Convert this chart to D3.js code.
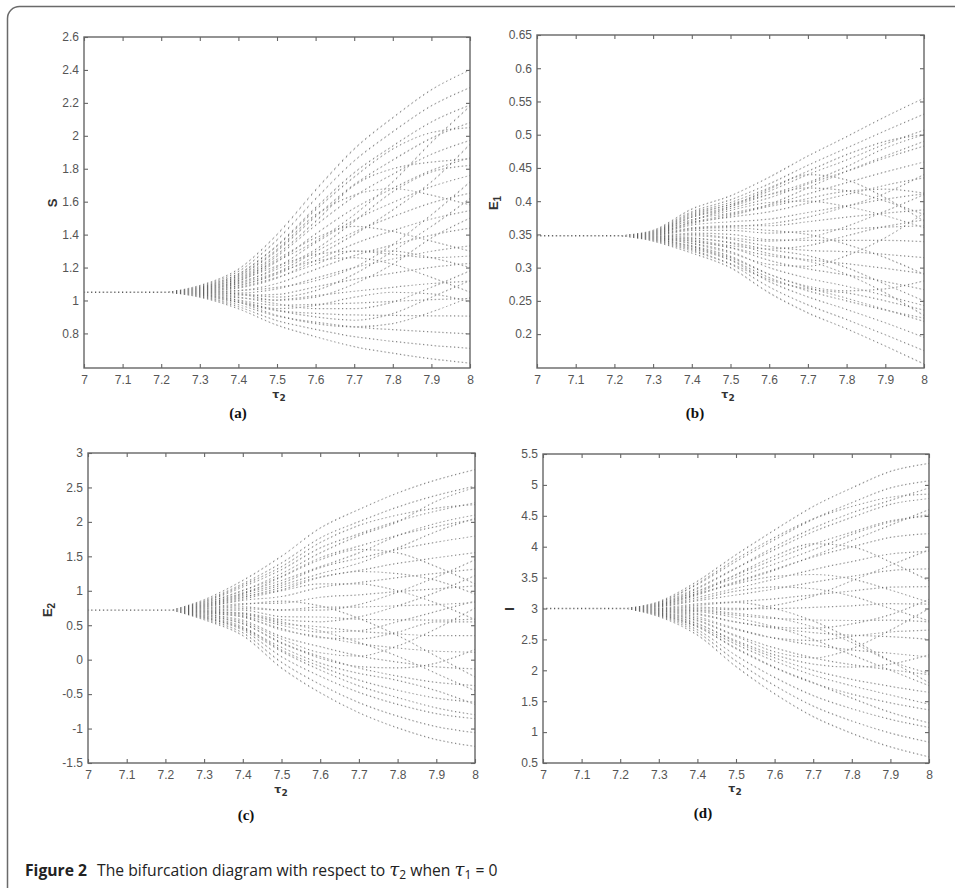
<!DOCTYPE html>
<html>
<head>
<meta charset="utf-8">
<script src="https://cdn.jsdelivr.net/npm/d3@7"></script>
<style>
  body { margin: 0; background: #fff; }
  svg { display: block; }
</style>
</head>
<body>
<svg id="fig" width="955" height="888"></svg>
<script>
// bifurcation diagrams, tau2 in [7, 8], tau1 = 0

var taus = [7.3, 7.4, 7.5, 7.6, 7.7, 7.8, 7.9, 8.0];
var splitTau = 7.22;   // branches leave the equilibrium about here
var tauStep = 0.01;    // parameter step of the sweep (dot columns)
var xTicks = [7, 7.1, 7.2, 7.3, 7.4, 7.5, 7.6, 7.7, 7.8, 7.9, 8];

// equilibrium value before the bifurcation
var fixedS = 1.05, fixedE1 = 0.348, fixedE2 = 0.72, fixedI = 3.0;

// branches, one row per branch, values at taus
var branchesS = [
  [1.09, 1.19, 1.40, 1.67, 1.92, 2.11, 2.28, 2.40],
  [1.086, 1.176, 1.367, 1.617, 1.848, 2.024, 2.182, 2.293],
  [1.082, 1.161, 1.334, 1.563, 1.776, 1.938, 2.084, 2.186],
  [1.077, 1.147, 1.301, 1.510, 1.704, 1.853, 1.986, 2.080],
  [1.073, 1.132, 1.268, 1.456, 1.632, 1.767, 1.888, 1.973],
  [1.069, 1.118, 1.235, 1.403, 1.560, 1.681, 1.790, 1.866],
  [1.065, 1.104, 1.202, 1.350, 1.488, 1.595, 1.691, 1.759],
  [1.061, 1.089, 1.169, 1.296, 1.416, 1.509, 1.593, 1.652],
  [1.056, 1.075, 1.136, 1.243, 1.344, 1.424, 1.495, 1.546],
  [1.052, 1.060, 1.103, 1.189, 1.272, 1.338, 1.397, 1.439],
  [1.048, 1.046, 1.070, 1.136, 1.200, 1.252, 1.299, 1.332],
  [1.044, 1.032, 1.037, 1.083, 1.128, 1.166, 1.201, 1.225],
  [1.040, 1.017, 1.004, 1.029, 1.056, 1.080, 1.103, 1.118],
  [1.035, 1.003, 0.971, 0.976, 0.984, 0.995, 1.005, 1.012],
  [1.031, 0.988, 0.938, 0.922, 0.912, 0.909, 0.907, 0.905],
  [1.027, 0.974, 0.905, 0.869, 0.840, 0.823, 0.809, 0.798],
  [1.024, 0.962, 0.878, 0.825, 0.780, 0.752, 0.727, 0.709],
  [1.02, 0.95, 0.85, 0.78, 0.72, 0.68, 0.645, 0.62],
  [1.06, 1.12, 1.25, 1.38, 1.45, 1.42, 1.36, 1.30],
  [1.05, 1.04, 1.00, 1.02, 1.10, 1.22, 1.38, 1.50],
  [1.07, 1.14, 1.28, 1.48, 1.70, 1.80, 1.84, 1.86],
  [1.065, 1.11, 1.19, 1.31, 1.48, 1.66, 1.78, 1.82],
  [1.045, 1.02, 0.98, 0.95, 0.95, 0.99, 1.08, 1.18],
  [1.075, 1.15, 1.31, 1.52, 1.64, 1.68, 1.64, 1.58],
  [1.04, 1.00, 0.94, 0.90, 0.88, 0.92, 1.02, 1.12],
  [1.055, 1.08, 1.14, 1.22, 1.30, 1.30, 1.26, 1.20],
  [1.08, 1.16, 1.33, 1.55, 1.75, 1.92, 2.02, 2.05],
  [1.058, 1.09, 1.16, 1.27, 1.40, 1.55, 1.72, 1.95],
  [1.052, 1.06, 1.08, 1.12, 1.20, 1.34, 1.52, 1.72],
  [1.062, 1.10, 1.17, 1.24, 1.26, 1.22, 1.14, 1.05],
  [1.038, 0.99, 0.91, 0.86, 0.84, 0.86, 0.93, 1.02],
  [1.072, 1.13, 1.24, 1.36, 1.52, 1.72, 1.96, 2.18],
  [1.046, 1.04, 1.02, 1.06, 1.16, 1.30, 1.45, 1.62],
  [1.034, 0.99, 0.95, 0.97, 1.02, 1.05, 1.04, 0.99],
  [1.068, 1.12, 1.21, 1.28, 1.30, 1.28, 1.26, 1.27]
];

var branchesE1 = [
  [0.356, 0.388, 0.408, 0.436, 0.468, 0.497, 0.527, 0.555],
  [0.355, 0.384, 0.402, 0.426, 0.454, 0.480, 0.506, 0.531],
  [0.354, 0.380, 0.395, 0.415, 0.440, 0.462, 0.486, 0.507],
  [0.353, 0.376, 0.389, 0.405, 0.426, 0.445, 0.465, 0.483],
  [0.352, 0.372, 0.382, 0.394, 0.411, 0.428, 0.444, 0.459],
  [0.351, 0.368, 0.376, 0.384, 0.397, 0.410, 0.424, 0.435],
  [0.350, 0.364, 0.369, 0.373, 0.383, 0.393, 0.403, 0.411],
  [0.349, 0.360, 0.363, 0.363, 0.369, 0.376, 0.382, 0.387],
  [0.348, 0.356, 0.356, 0.352, 0.355, 0.358, 0.361, 0.363],
  [0.347, 0.352, 0.350, 0.342, 0.341, 0.341, 0.341, 0.339],
  [0.346, 0.348, 0.343, 0.332, 0.326, 0.324, 0.320, 0.315],
  [0.345, 0.344, 0.337, 0.321, 0.312, 0.306, 0.299, 0.291],
  [0.344, 0.340, 0.330, 0.311, 0.298, 0.289, 0.279, 0.267],
  [0.344, 0.337, 0.324, 0.300, 0.284, 0.272, 0.258, 0.243],
  [0.343, 0.333, 0.317, 0.290, 0.270, 0.254, 0.237, 0.219],
  [0.342, 0.329, 0.311, 0.279, 0.256, 0.237, 0.217, 0.195],
  [0.341, 0.325, 0.305, 0.271, 0.244, 0.222, 0.199, 0.175],
  [0.340, 0.322, 0.300, 0.262, 0.232, 0.208, 0.182, 0.155],
  [0.350, 0.370, 0.392, 0.418, 0.440, 0.432, 0.405, 0.370],
  [0.346, 0.336, 0.322, 0.305, 0.302, 0.318, 0.345, 0.382],
  [0.352, 0.376, 0.392, 0.410, 0.428, 0.452, 0.480, 0.500],
  [0.351, 0.368, 0.380, 0.392, 0.404, 0.415, 0.418, 0.412],
  [0.347, 0.345, 0.338, 0.327, 0.318, 0.300, 0.275, 0.250],
  [0.353, 0.378, 0.395, 0.410, 0.420, 0.416, 0.400, 0.380],
  [0.343, 0.331, 0.315, 0.290, 0.272, 0.265, 0.268, 0.280],
  [0.349, 0.359, 0.362, 0.366, 0.376, 0.392, 0.412, 0.440],
  [0.345, 0.340, 0.330, 0.318, 0.310, 0.290, 0.262, 0.228],
  [0.350, 0.366, 0.378, 0.395, 0.420, 0.445, 0.468, 0.490],
  [0.347, 0.350, 0.345, 0.340, 0.345, 0.362, 0.385, 0.410],
  [0.352, 0.372, 0.386, 0.398, 0.400, 0.392, 0.378, 0.360],
  [0.344, 0.332, 0.312, 0.285, 0.265, 0.250, 0.236, 0.224],
  [0.349, 0.358, 0.360, 0.356, 0.350, 0.335, 0.315, 0.290],
  [0.346, 0.342, 0.333, 0.328, 0.333, 0.348, 0.362, 0.372],
  [0.354, 0.382, 0.398, 0.420, 0.445, 0.470, 0.490, 0.500],
  [0.342, 0.327, 0.306, 0.282, 0.268, 0.262, 0.250, 0.236]
];

var branchesE2 = [
  [0.87, 1.15, 1.50, 1.91, 2.18, 2.42, 2.61, 2.76],
  [0.853, 1.102, 1.403, 1.767, 2.003, 2.215, 2.384, 2.519],
  [0.835, 1.054, 1.306, 1.623, 1.826, 2.011, 2.158, 2.278],
  [0.818, 1.006, 1.208, 1.480, 1.649, 1.806, 1.931, 2.036],
  [0.800, 0.958, 1.111, 1.336, 1.472, 1.602, 1.705, 1.795],
  [0.783, 0.910, 1.014, 1.193, 1.295, 1.397, 1.479, 1.554],
  [0.766, 0.862, 0.917, 1.050, 1.118, 1.192, 1.253, 1.313],
  [0.748, 0.814, 0.820, 0.906, 0.941, 0.988, 1.027, 1.072],
  [0.731, 0.766, 0.722, 0.763, 0.764, 0.783, 0.800, 0.830],
  [0.713, 0.718, 0.625, 0.619, 0.587, 0.579, 0.574, 0.589],
  [0.696, 0.670, 0.528, 0.476, 0.410, 0.374, 0.348, 0.348],
  [0.679, 0.622, 0.431, 0.333, 0.233, 0.169, 0.122, 0.107],
  [0.661, 0.574, 0.334, 0.189, 0.056, -0.035, -0.104, -0.134],
  [0.644, 0.526, 0.236, 0.046, -0.121, -0.240, -0.331, -0.376],
  [0.626, 0.478, 0.139, -0.098, -0.298, -0.444, -0.557, -0.617],
  [0.609, 0.430, 0.042, -0.241, -0.475, -0.649, -0.783, -0.858],
  [0.595, 0.390, -0.039, -0.361, -0.623, -0.820, -0.972, -1.059],
  [0.58, 0.35, -0.12, -0.48, -0.77, -0.99, -1.16, -1.26],
  [0.79, 0.95, 1.20, 1.45, 1.60, 1.55, 1.35, 1.10],
  [0.66, 0.55, 0.30, 0.10, 0.05, 0.20, 0.45, 0.75],
  [0.74, 0.80, 0.85, 0.78, 0.60, 0.35, 0.05, -0.25],
  [0.80, 0.97, 1.15, 1.35, 1.55, 1.80, 1.98, 2.10],
  [0.70, 0.68, 0.58, 0.55, 0.62, 0.78, 0.98, 1.22],
  [0.62, 0.46, 0.18, -0.05, -0.20, -0.30, -0.45, -0.65],
  [0.76, 0.88, 1.00, 1.10, 1.10, 1.00, 0.82, 0.58],
  [0.68, 0.62, 0.45, 0.32, 0.30, 0.40, 0.55, 0.55],
  [0.84, 1.08, 1.35, 1.70, 1.95, 2.10, 2.20, 2.25],
  [0.78, 0.93, 1.08, 1.25, 1.40, 1.62, 1.86, 2.05],
  [0.72, 0.74, 0.72, 0.72, 0.80, 0.98, 1.20, 1.45],
  [0.77, 0.90, 1.05, 1.20, 1.28, 1.25, 1.15, 0.95],
  [0.64, 0.52, 0.25, 0.02, -0.10, -0.12, -0.05, 0.15],
  [0.70, 0.66, 0.55, 0.42, 0.25, 0.05, -0.20, -0.45],
  [0.82, 1.00, 1.25, 1.55, 1.80, 2.00, 2.30, 2.50],
  [0.69, 0.64, 0.50, 0.40, 0.42, 0.55, 0.70, 0.85],
  [0.61, 0.45, 0.12, -0.15, -0.38, -0.55, -0.70, -0.80]
];

var branchesI = [
  [3.11, 3.44, 3.87, 4.27, 4.65, 4.95, 5.22, 5.35],
  [3.096, 3.388, 3.761, 4.111, 4.446, 4.712, 4.952, 5.065],
  [3.081, 3.336, 3.653, 3.952, 4.242, 4.474, 4.685, 4.780],
  [3.067, 3.283, 3.544, 3.793, 4.038, 4.235, 4.417, 4.495],
  [3.052, 3.231, 3.436, 3.634, 3.834, 3.997, 4.150, 4.210],
  [3.038, 3.179, 3.327, 3.475, 3.630, 3.759, 3.882, 3.925],
  [3.024, 3.127, 3.218, 3.316, 3.426, 3.521, 3.614, 3.640],
  [3.009, 3.075, 3.110, 3.157, 3.222, 3.283, 3.347, 3.355],
  [2.995, 3.022, 3.001, 2.998, 3.018, 3.044, 3.079, 3.070],
  [2.980, 2.970, 2.893, 2.839, 2.814, 2.806, 2.812, 2.785],
  [2.966, 2.918, 2.784, 2.680, 2.610, 2.568, 2.544, 2.500],
  [2.952, 2.866, 2.675, 2.521, 2.406, 2.330, 2.276, 2.215],
  [2.937, 2.814, 2.567, 2.362, 2.202, 2.092, 2.009, 1.930],
  [2.923, 2.761, 2.458, 2.203, 1.998, 1.853, 1.741, 1.645],
  [2.908, 2.709, 2.350, 2.044, 1.794, 1.615, 1.474, 1.360],
  [2.894, 2.657, 2.241, 1.885, 1.590, 1.377, 1.206, 1.075],
  [2.882, 2.614, 2.151, 1.753, 1.420, 1.179, 0.983, 0.838],
  [2.87, 2.57, 2.06, 1.62, 1.25, 0.98, 0.76, 0.60],
  [3.05, 3.25, 3.55, 3.85, 4.05, 4.00, 3.75, 3.45],
  [2.93, 2.80, 2.55, 2.30, 2.20, 2.35, 2.65, 3.00],
  [3.00, 3.05, 3.10, 3.00, 2.80, 2.50, 2.15, 1.80],
  [3.06, 3.28, 3.50, 3.72, 3.95, 4.20, 4.40, 4.52],
  [2.96, 2.90, 2.78, 2.70, 2.68, 2.75, 2.90, 3.15],
  [2.91, 2.72, 2.42, 2.15, 1.92, 1.75, 1.60, 1.45],
  [3.03, 3.15, 3.28, 3.35, 3.32, 3.20, 3.00, 2.80],
  [2.98, 2.98, 2.92, 2.85, 2.70, 2.45, 2.15, 1.95],
  [3.09, 3.40, 3.80, 4.15, 4.45, 4.65, 4.80, 4.85],
  [3.04, 3.22, 3.42, 3.62, 3.85, 4.10, 4.35, 4.60],
  [2.99, 3.00, 2.98, 3.05, 3.20, 3.45, 3.70, 3.95],
  [3.05, 3.24, 3.40, 3.52, 3.55, 3.48, 3.30, 3.10],
  [2.92, 2.75, 2.48, 2.25, 2.10, 2.05, 2.10, 2.25],
  [2.97, 2.95, 2.85, 2.70, 2.50, 2.25, 2.00, 1.75],
  [3.07, 3.32, 3.65, 4.00, 4.30, 4.55, 4.75, 4.95],
  [2.94, 2.84, 2.66, 2.52, 2.48, 2.55, 2.62, 2.65],
  [2.90, 2.70, 2.36, 2.05, 1.80, 1.55, 1.32, 1.15]
];

var yTicksS  = [0.8, 1, 1.2, 1.4, 1.6, 1.8, 2, 2.2, 2.4, 2.6];
var yTicksE1 = [0.2, 0.25, 0.3, 0.35, 0.4, 0.45, 0.5, 0.55, 0.6, 0.65];
var yTicksE2 = [-1.5, -1, -0.5, 0, 0.5, 1, 1.5, 2, 2.5, 3];
var yTicksI  = [0.5, 1, 1.5, 2, 2.5, 3, 3.5, 4, 4.5, 5, 5.5];

var svg = d3.select("#fig");
var defs = svg.append("defs");

svg.append("rect")
    .attr("width", 955).attr("height", 888)
    .attr("fill", "#fff");

// rounded frame of the figure box
svg.append("rect")
    .attr("x", 7.5).attr("y", 6.5)
    .attr("width", 1000).attr("height", 900)
    .attr("rx", 12)
    .attr("fill", "none")
    .attr("stroke", "#6a6a6a")
    .attr("stroke-width", 1.5);

var panels = [
  { id: "a", box: [84, 37, 470, 368], ydom: [0.59, 2.6], yticks: yTicksS, fixed: fixedS, branches: branchesS,
    yname: "S", ysub: "", ylab: [52, 203], xlab: [279, 398], tag: [238, 413] },
  { id: "b", box: [537, 35, 924, 368], ydom: [0.149, 0.65], yticks: yTicksE1, fixed: fixedE1, branches: branchesE1,
    yname: "E", ysub: "1", ylab: [493, 203], xlab: [728, 398], tag: [695, 413] },
  { id: "c", box: [88, 453, 475, 763], ydom: [-1.5, 3], yticks: yTicksE2, fixed: fixedE2, branches: branchesE2,
    yname: "E", ysub: "2", ylab: [47, 610], xlab: [281, 793], tag: [246, 815] },
  { id: "d", box: [543, 454, 929, 763], ydom: [0.5, 5.5], yticks: yTicksI, fixed: fixedI, branches: branchesI,
    yname: "I", ysub: "", ylab: [509, 609], xlab: [735, 792], tag: [703, 813] }
];

panels.forEach(function(p) {
  var x0 = p.box[0], y0 = p.box[1], x1 = p.box[2], y1 = p.box[3];
  var x = d3.scaleLinear().domain([7, 8]).range([x0, x1]);
  var y = d3.scaleLinear().domain(p.ydom).range([y1, y0]);
  var g = svg.append("g").attr("class", "panel-" + p.id);

  defs.append("clipPath").attr("id", "clip-" + p.id)
    .append("rect")
      .attr("x", x0).attr("y", y0)
      .attr("width", x1 - x0).attr("height", y1 - y0);

  // the sweep only samples tau2 every tauStep, so the curves show up
  // as columns of dots: mask them with thin vertical stripes
  var colW = x(7 + tauStep) - x(7);
  defs.append("pattern")
      .attr("id", "cols-" + p.id)
      .attr("patternUnits", "userSpaceOnUse")
      .attr("x", x0 - 0.6).attr("y", 0)
      .attr("width", colW).attr("height", 888)
    .append("rect")
      .attr("width", 1.2).attr("height", 888)
      .attr("fill", "#fff");
  defs.append("mask").attr("id", "mask-" + p.id)
      .attr("maskUnits", "userSpaceOnUse")
      .attr("x", 0).attr("y", 0).attr("width", 955).attr("height", 888)
    .append("rect")
      .attr("x", x0).attr("y", y0)
      .attr("width", x1 - x0).attr("height", y1 - y0)
      .attr("fill", "url(#cols-" + p.id + ")");

  var line = d3.line()
      .x(function(d) { return x(d[0]); })
      .y(function(d) { return y(d[1]); })
      .curve(d3.curveMonotoneX);

  var dots = g.append("g")
      .attr("clip-path", "url(#clip-" + p.id + ")")
      .append("g")
      .attr("mask", "url(#mask-" + p.id + ")");

  dots.append("path")
      .attr("d", line([[7, p.fixed], [splitTau, p.fixed]]))
      .attr("fill", "none")
      .attr("stroke", "#555")
      .attr("stroke-width", 1.3);

  dots.selectAll("path.branch")
    .data(p.branches)
    .enter().append("path")
      .attr("class", "branch")
      .attr("d", function(b) {
        var pts = [[splitTau, p.fixed]];
        b.forEach(function(v, i) { pts.push([taus[i], v]); });
        return line(pts);
      })
      .attr("fill", "none")
      .attr("stroke", "#5a5a5a")
      .attr("stroke-opacity", 0.75)
      .attr("stroke-width", 1.2);

  // axes, ticks pointing inwards like matlab
  var axColor = "#666";
  var fmt = function(d) { return String(+d.toFixed(2)); };

  var bottom = g.append("g")
      .attr("transform", "translate(0," + y1 + ")")
      .call(d3.axisBottom(x).tickValues(xTicks).tickSizeInner(-4).tickSizeOuter(0)
            .tickPadding(7).tickFormat(fmt));
  var left = g.append("g")
      .attr("transform", "translate(" + x0 + ",0)")
      .call(d3.axisLeft(y).tickValues(p.yticks).tickSizeInner(-4).tickSizeOuter(0)
            .tickPadding(5).tickFormat(fmt));
  var top = g.append("g")
      .attr("transform", "translate(0," + y0 + ")")
      .call(d3.axisTop(x).tickValues(xTicks).tickSizeInner(-4).tickSizeOuter(0).tickFormat(""));
  var right = g.append("g")
      .attr("transform", "translate(" + x1 + ",0)")
      .call(d3.axisRight(y).tickValues(p.yticks).tickSizeInner(-4).tickSizeOuter(0).tickFormat(""));

  [bottom, left, top, right].forEach(function(a) {
    a.select(".domain").remove();
    a.selectAll(".tick line").attr("stroke", axColor).attr("stroke-width", 1.1);
    a.selectAll(".tick text")
        .attr("fill", "#555")
        .style("font-family", "'Liberation Sans', Arial, sans-serif")
        .style("font-size", "12px");
  });

  g.append("rect")
      .attr("x", x0).attr("y", y0)
      .attr("width", x1 - x0).attr("height", y1 - y0)
      .attr("fill", "none")
      .attr("stroke", axColor)
      .attr("stroke-width", 1.4);

  // y label
  var yl = g.append("text")
      .attr("transform", "translate(" + p.ylab[0] + "," + p.ylab[1] + ") rotate(-90)")
      .attr("text-anchor", "middle")
      .attr("dy", "0.35em")
      .attr("fill", "#333")
      .style("font-family", "'Liberation Sans', Arial, sans-serif")
      .style("font-size", "13px")
      .style("font-weight", "bold");
  yl.append("tspan").text(p.yname);
  if (p.ysub) {
    yl.append("tspan").attr("dy", "0.3em").style("font-size", "10px").text(p.ysub);
  }

  // x label tau_2
  var xl = g.append("text")
      .attr("x", p.xlab[0]).attr("y", p.xlab[1])
      .attr("text-anchor", "middle")
      .attr("fill", "#333")
      .style("font-family", "'DejaVu Sans', sans-serif")
      .style("font-size", "11px")
      .style("font-weight", "bold");
  xl.append("tspan").text("τ");
  xl.append("tspan").attr("dy", "0.3em").style("font-size", "9px").text("2");

  // sub figure tag
  g.append("text")
      .attr("x", p.tag[0]).attr("y", p.tag[1])
      .attr("text-anchor", "middle")
      .attr("dy", "0.35em")
      .attr("fill", "#111")
      .style("font-family", "'Liberation Serif', 'Times New Roman', serif")
      .style("font-size", "15px")
      .style("font-weight", "bold")
      .text("(" + p.id + ")");
});

// caption
var cap = svg.append("text")
    .attr("x", 25).attr("y", 876)
    .attr("fill", "#222")
    .style("font-family", "'Open Sans', 'Noto Sans', sans-serif")
    .style("font-size", "15.7px");
cap.append("tspan").style("font-weight", "bold").text("Figure 2");
cap.append("tspan").attr("dx", 6).text(" The bifurcation diagram with respect to ");
cap.append("tspan").style("font-family", "'DejaVu Serif', serif").style("font-style", "italic").style("font-size", "18px").text("τ");
cap.append("tspan").attr("dy", 3).style("font-size", "12px").text("2");
cap.append("tspan").attr("dy", -3).text(" when ");
cap.append("tspan").style("font-family", "'DejaVu Serif', serif").style("font-style", "italic").style("font-size", "18px").text("τ");
cap.append("tspan").attr("dy", 3).style("font-size", "12px").text("1");
cap.append("tspan").attr("dy", -3).text(" = 0");
</script>
</body>
</html>
